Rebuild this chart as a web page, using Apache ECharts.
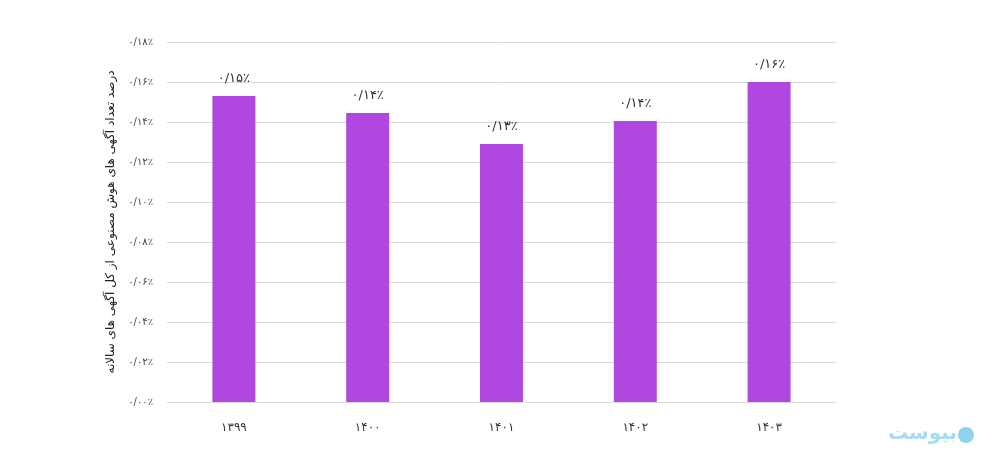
<!DOCTYPE html>
<html>
<head>
<meta charset="utf-8">
<script src="https://cdn.jsdelivr.net/npm/echarts@6/dist/echarts.min.js"></script>
<style>
html,body{margin:0;padding:0;background:#fff;}
#main{width:995px;height:464px;}
</style>
</head>
<body>
<div id="main"></div>
<script>
var categories = ['1399', '1400', '1401', '1402', '1403'];
var values = [0.153, 0.1445, 0.129, 0.1405, 0.160];
var axisTitle = 'درصد تعداد آگهی های هوش مصنوعی از کل آگهی های سالانه';
var watermarkText = 'بیوست';

var faDigits = ['۰','۱','۲','۳','۴','۵','۶','۷','۸','۹'];
function toFa(s) {
  return String(s).replace(/[0-9]/g, function (d) { return faDigits[+d]; });
}
function pct(v) {
  return toFa(v.toFixed(2)).replace('.', '/') + '٪';
}

var chart = echarts.init(document.getElementById('main'));
chart.setOption({
  backgroundColor: '#ffffff',
  animation: false,
  textStyle: { fontFamily: 'DejaVu Sans' },
  grid: { left: 167, right: 159, top: 42, bottom: 62 },
  xAxis: {
    type: 'category',
    data: categories,
    axisLine: { show: false },
    axisTick: { show: false },
    axisLabel: {
      formatter: function (v) { return toFa(v); },
      color: '#333', fontSize: 12, margin: 20, fontFamily: 'DejaVu Sans'
    }
  },
  yAxis: {
    type: 'value',
    min: 0, max: 0.18, interval: 0.02,
    name: axisTitle,
    nameLocation: 'middle',
    nameRotate: 90,
    nameGap: 50,
    nameTextStyle: { color: '#222', fontSize: 12, fontFamily: 'DejaVu Sans' },
    axisLine: { show: false },
    axisTick: { show: false },
    splitLine: { lineStyle: { color: '#d9d9d9', width: 1 } },
    axisLabel: {
      formatter: function (v) { return pct(v); },
      color: '#444', fontSize: 10, margin: 14, fontFamily: 'DejaVu Sans'
    }
  },
  series: [{
    type: 'bar',
    data: values,
    barWidth: 43,
    itemStyle: { color: '#b047e0' },
    label: {
      show: true, position: 'top', distance: 11,
      formatter: function (p) { return pct(p.value); },
      color: '#333', fontSize: 13, fontFamily: 'DejaVu Sans'
    }
  }],
  graphic: [
    { type: 'text', right: 38, top: 424,
      style: { text: watermarkText, fill: '#a6dcf0', font: 'bold 20px DejaVu Sans' } },
    { type: 'circle', shape: { cx: 966, cy: 435, r: 8 }, style: { fill: '#8fd2ee' } }
  ]
});
</script>
</body>
</html>
